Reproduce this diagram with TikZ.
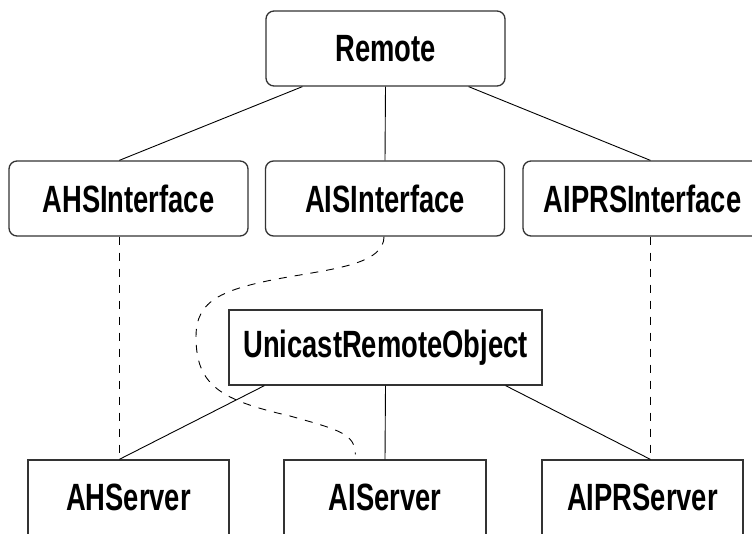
\documentclass[tikz,border=0pt]{standalone}
\usepackage{fontspec}
\setmainfont{Liberation Sans}[FakeStretch=0.72]
\usetikzlibrary{calc}
\tikzset{
  ifacebox/.style={draw=black!80, line width=1.3pt, rounded corners=8pt,
    minimum width=239pt, minimum height=75pt, inner sep=0pt,
    font=\fontsize{38}{40}\selectfont\bfseries},
  classbox/.style={draw=black!80, line width=1.3pt,
    minimum height=75pt, inner sep=0pt,
    font=\fontsize{38}{40}\selectfont\bfseries},
  link/.style={draw=black, line width=0.9pt},
  impl/.style={draw=black, line width=0.9pt, dash pattern=on 8pt off 8pt}
}
\begin{document}
\begin{tikzpicture}[x=1pt, y=-1pt]
\useasboundingbox (0,0) rectangle (752,533);
\clip (0,0) rectangle (752,533);

% interfaces
\node[ifacebox] (remote) at (385.5,48.5) {Remote};
\node[ifacebox] (ahsi)   at (128.5,198.5) {AHSInterface};
\node[ifacebox] (aisi)   at (385,198.5) {AISInterface};
\node[ifacebox] (aiprsi) at (642.5,198.5) {AIPRSInterface};

% classes
\node[classbox, minimum width=313pt] (uro) at (385.5,347.5) {UnicastRemoteObject};
\node[classbox, minimum width=201pt] (ahs)   at (128.5,497.5) {AHServer};
\node[classbox, minimum width=202pt] (ais)   at (385,497.5) {AIServer};
\node[classbox, minimum width=201pt] (aiprs) at (642.5,497.5) {AIPRServer};

% Remote and its sub-interfaces
\draw[link] ([xshift=37pt]remote.south west) -- ([xshift=111pt]ahsi.north west);
\draw[link] (remote.south) -- (aisi.north);
\draw[link] ([xshift=-37pt]remote.south east) -- ([xshift=128pt]aiprsi.north west);

% UnicastRemoteObject and its subclasses
\draw[link] ([xshift=36pt]uro.south west) -- ([xshift=92pt]ahs.north west);
\draw[link] (uro.south) -- (ais.north);
\draw[link] ([xshift=-37pt]uro.south east) -- ([xshift=109pt]aiprs.north west);

% interface implementations
\draw[impl] ([xshift=92pt]ahs.north west |- ahsi.south) -- ([xshift=92pt]ahs.north west);
\draw[impl] ([xshift=109pt]aiprs.north west |- aiprsi.south) -- ([xshift=109pt]aiprs.north west);
\draw[impl] ([xshift=-1pt]aisi.south)
  .. controls (384,262) and (340,268) .. (300,275)
  .. controls (220,288) and (196,300) .. (196,337)
  .. controls (196,385) and (220,400) .. (290,416)
  .. controls (340,430) and (355,434) .. ([shift={(72pt,5pt)}]ais.north west);
\end{tikzpicture}
\end{document}
